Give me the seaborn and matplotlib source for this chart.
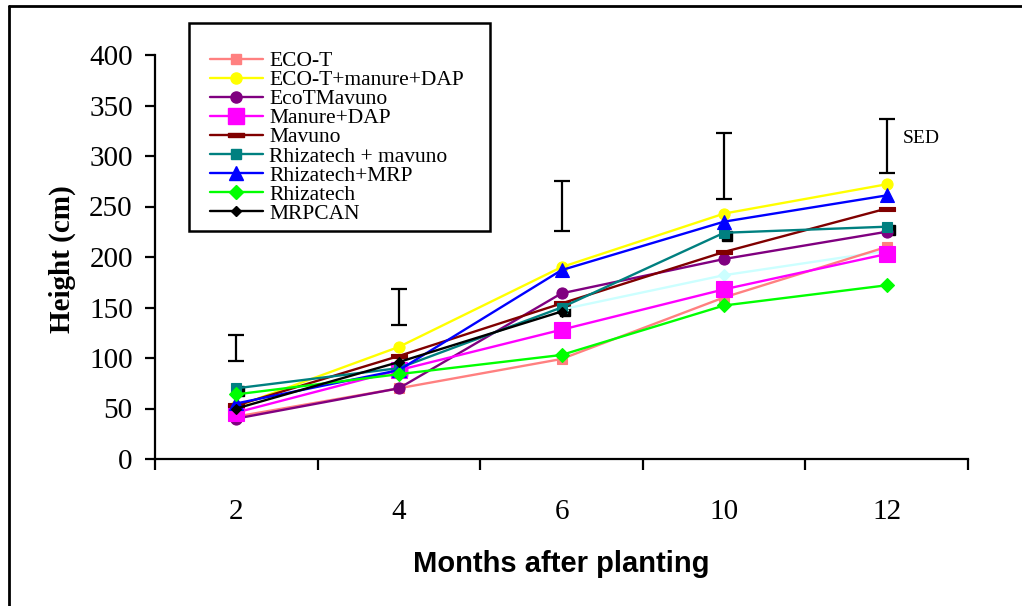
import numpy as np
import pandas as pd
import seaborn as sns
import matplotlib
matplotlib.use("Agg")
import matplotlib.pyplot as plt
from matplotlib.lines import Line2D
from matplotlib.patches import Rectangle
from matplotlib.transforms import offset_copy

# ---------------- data ----------------
months = ["2", "4", "6", "10", "12"]

eco_t = [42, 70, 99, 160, 210]
eco_t_manure_dap = [52, 111, 190, 243, 272]
ecot_mavuno = [40, 70, 164, 198, 225]
manure_dap = [46, 88, 128, 168, 203]
mavuno = [53, 102, 154, 205, 248]
rhiza_mavuno = [70, 90, 150, 224, 230]
rhiza_mrp = [55, 88, 187, 235, 261]
rhizatech = [64, 84, 103, 152, 172]
mrpcan = [50, 96, 146, np.nan, np.nan]
unlabelled = [np.nan, np.nan, 148, 182, 206]

sed_center = [110, 150.5, 250.5, 290, 310]
sed_half = [13, 17.5, 24.5, 33, 27]

# ---------------- style ----------------
sns.set_theme(style="white")
plt.rcParams["font.family"] = ["Liberation Serif", "DejaVu Serif"]

fig = plt.figure(figsize=(10.22, 6.06), dpi=100)
W, H = 1022, 606
ax = fig.add_axes([155 / W, 1 - 459 / H, 813 / W, 404 / H])

pos = np.arange(len(months))

dash = [(-1, -0.32), (1, -0.32), (1, 0.32), (-1, 0.32), (-1, -0.32)]

series = [
    ("ECO-T", eco_t, "#FF8080", "s", 6.5),
    ("ECO-T+manure+DAP", eco_t_manure_dap, "#FFFF00", "o", 8),
    ("EcoTMavuno", ecot_mavuno, "#800080", "o", 8),
    ("Manure+DAP", manure_dap, "#FF00FF", "s", 12),
    ("Mavuno", mavuno, "#800000", dash, 11),
    ("Rhizatech + mavuno", rhiza_mavuno, "#008080", "s", 7),
    ("Rhizatech+MRP", rhiza_mrp, "#0000FF", "^", 9.5),
    ("Rhizatech", rhizatech, "#00FF00", "D", 7),
    ("MRPCAN", mrpcan, "#000000", "D", 5.5),
]

draw_order = [
    ("", unlabelled, "#CCFFFF", "D", 6),
] + series

LW = 1.7
handles = []
for name, vals, col, mk, ms in draw_order:
    df = pd.DataFrame({"x": pos, "y": vals}).dropna()
    if name == "Rhizatech + mavuno":
        # black marker shadow, offset down-right
        ax.plot(df["x"], df["y"], linestyle="none", marker=mk, markersize=ms,
                color="black", mec="black",
                transform=offset_copy(ax.transData, fig=fig, x=3, y=-3, units="dots"),
                zorder=2)
    sns.lineplot(data=df, x="x", y="y", ax=ax, color=col, linewidth=LW,
                 marker=mk, markersize=ms, markeredgecolor=col, markeredgewidth=0.8,
                 legend=False, zorder=3)
    if name:
        handles.append(Line2D([0], [0], color=col, linewidth=LW, marker=mk,
                              markersize=ms, markeredgecolor=col, label=name))

# SED bars
ax.errorbar(pos, sed_center, yerr=sed_half, fmt="none", ecolor="black",
            elinewidth=1.6, capsize=6, capthick=1.6, zorder=4)
ax.text(pos[-1] + 0.1, sed_center[-1] + 7, "SED", fontsize=14, va="center",
        ha="left", color="black")

# axes
ax.set_xlim(-0.5, len(months) - 0.5)
ax.set_ylim(0, 400)
ax.set_yticks(np.arange(0, 401, 50))
ax.set_xticks(pos)
ax.set_xticklabels(months)
ax.set_xticks(np.arange(-0.5, len(months), 1), minor=True)
ax.tick_params(axis="x", which="major", length=0, pad=29, labelsize=21, colors="black")
ax.tick_params(axis="x", which="minor", length=8, width=1.6, direction="out",
               bottom=True, color="black")
ax.tick_params(axis="y", which="major", length=7, width=1.6, direction="out",
               left=True, pad=9, labelsize=21, colors="black")
for s in ["top", "right"]:
    ax.spines[s].set_visible(False)
for s in ["left", "bottom"]:
    ax.spines[s].set_color("black")
    ax.spines[s].set_linewidth(1.6)
ax.grid(False)
ax.set_facecolor("white")

ax.set_xlabel("Months after planting", fontsize=21, fontweight="bold",
              family=["Liberation Sans", "DejaVu Sans"], color="black")
ax.xaxis.set_label_coords(0.5, (459 - 564) / 404)
ax.xaxis.label.set_va("center")
ax.set_ylabel("Height (cm)", fontsize=21, fontweight="bold", color="black")
ax.yaxis.set_label_coords((62 - 155) / 813, (459 - 259) / 404)
ax.yaxis.label.set_va("center")

# legend
leg = fig.legend(handles=handles, loc="upper left",
                 bbox_to_anchor=(210 / W, 1 - 51 / H), frameon=False,
                 fontsize=15.5, labelspacing=-0.045, handlelength=2.45,
                 handletextpad=0.3, borderpad=0, borderaxespad=0)
for t in leg.get_texts():
    t.set_color("black")
fig.patches.append(Rectangle((189 / W, 1 - 231 / H), (490 - 189) / W, (231 - 23) / H,
                             transform=fig.transFigure, fill=False,
                             edgecolor="black", linewidth=1.8, zorder=5))

# figure border (left and top)
fig.lines.append(Line2D([9 / W, 9 / W], [0, 1 - 6 / H], transform=fig.transFigure,
                        color="black", linewidth=2))
fig.lines.append(Line2D([9 / W, 1], [1 - 6 / H, 1 - 6 / H], transform=fig.transFigure,
                        color="black", linewidth=2))

fig.savefig("out.png", dpi=100, facecolor="white")
